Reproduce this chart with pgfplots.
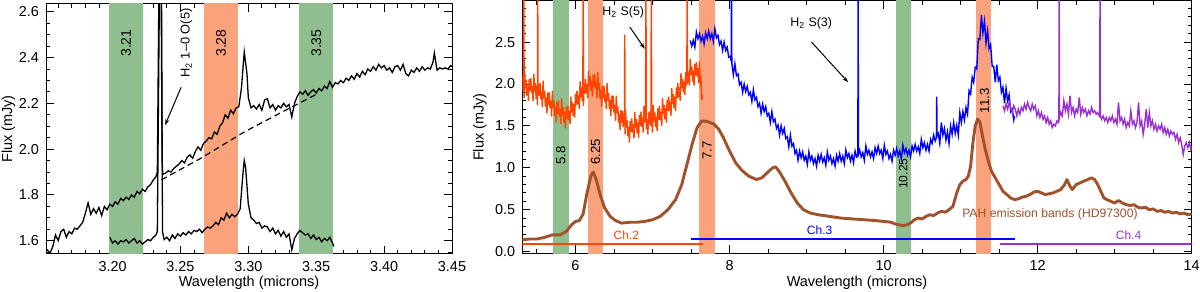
\documentclass[border=0pt]{standalone}
\usepackage{pgfplots}
\pgfplotsset{compat=1.18}
\usepackage{fontspec}
\setmainfont{Liberation Sans}
\usetikzlibrary{arrows.meta}
\definecolor{gband}{RGB}{143,191,143}
\definecolor{oband}{RGB}{250,162,124}
\definecolor{chtwo}{RGB}{255,69,0}
\definecolor{chthree}{RGB}{0,0,255}
\definecolor{chfour}{RGB}{155,48,210}
\definecolor{pah}{RGB}{160,82,45}
\pgfplotsset{
  common/.style={
    scale only axis, axis line style={line width=0.5pt},
    tick align=inside, major tick length=4pt, minor tick length=2pt,
    every tick/.style={black, line width=0.45pt},
    every tick label/.append style={font=\fontsize{7.2}{8}\selectfont},
    label style={font=\fontsize{7.25}{8}\selectfont},
    /pgf/number format/assume math mode=true,
    xlabel={Wavelength (microns)}, ylabel={Flux (mJy)},
  }
}
\begin{document}
\begin{tikzpicture}
\useasboundingbox (0,0) rectangle (600pt,-146pt);
% ---------------- left panel ----------------
\begin{axis}[common, at={(23pt,-127pt)}, anchor=south west, width=203pt, height=125pt,
  xmin=3.151, xmax=3.45, ymin=1.542, ymax=2.634,
  xtick={3.20,3.25,3.30,3.35,3.40,3.45},
  minor xtick={3.16,3.17,3.18,3.19,3.21,3.22,3.23,3.24,3.26,3.27,3.28,3.29,3.31,3.32,3.33,3.34,3.36,3.37,3.38,3.39,3.41,3.42,3.43,3.44},
  ytick={1.6,1.8,2.0,2.2,2.4,2.6},
  minor ytick={1.55,1.65,1.7,1.75,1.85,1.9,1.95,2.05,2.1,2.15,2.25,2.3,2.35,2.45,2.5,2.55},
  xticklabel style={/pgf/number format/.cd, fixed, fixed zerofill, precision=2},
  yticklabel style={/pgf/number format/.cd, fixed, fixed zerofill, precision=1},
  xlabel style={at={(axis description cs:0.5,-0.116)}, anchor=center},
  ylabel style={at={(axis description cs:-0.0929,0.5)}, anchor=center},
]
\addplot[draw=none, fill=gband] coordinates {(3.1975,1.5) (3.1975,2.7) (3.2225,2.7) (3.2225,1.5)} -- cycle;
\addplot[draw=none, fill=oband] coordinates {(3.2675,1.5) (3.2675,2.7) (3.2925,2.7) (3.2925,1.5)} -- cycle;
\addplot[draw=none, fill=gband] coordinates {(3.3375,1.5) (3.3375,2.7) (3.3625,2.7) (3.3625,1.5)} -- cycle;
% upper spectrum
\addplot[black, line width=0.65pt] coordinates {
(3.150,1.555) (3.152,1.560) (3.154,1.545) (3.156,1.575) (3.158,1.625) (3.160,1.600) (3.162,1.640) (3.164,1.650)
(3.166,1.615) (3.168,1.640) (3.170,1.630) (3.172,1.655) (3.174,1.650) (3.176,1.665) (3.178,1.680) (3.180,1.720)
(3.182,1.765) (3.184,1.715) (3.186,1.740) (3.188,1.720) (3.190,1.745) (3.192,1.710) (3.194,1.750) (3.196,1.735)
(3.198,1.760) (3.200,1.750) (3.202,1.770) (3.204,1.760) (3.206,1.785) (3.208,1.775) (3.210,1.790) (3.212,1.780)
(3.214,1.800) (3.216,1.790) (3.218,1.815) (3.220,1.805) (3.222,1.825) (3.224,1.815) (3.226,1.835) (3.228,1.845)
(3.230,1.865) (3.232,1.880) (3.233,1.900) (3.2343,2.8) (3.2357,2.8) (3.2365,1.950) (3.237,1.890) (3.239,1.895)
(3.241,1.905) (3.243,1.900) (3.245,1.915) (3.247,1.925) (3.249,1.935) (3.251,1.950) (3.253,1.940) (3.255,1.965)
(3.257,1.975) (3.259,1.960) (3.261,1.990) (3.263,2.010) (3.265,1.995) (3.267,2.025) (3.269,2.035) (3.271,2.050)
(3.273,2.045) (3.275,2.075) (3.277,2.065) (3.279,2.100) (3.281,2.115) (3.283,2.150) (3.285,2.135) (3.287,2.170)
(3.289,2.155) (3.291,2.180) (3.293,2.185) (3.295,2.270) (3.297,2.425) (3.299,2.330) (3.300,2.225) (3.302,2.180)
(3.304,2.190) (3.306,2.175) (3.308,2.195) (3.310,2.170) (3.312,2.215) (3.314,2.220) (3.316,2.180) (3.318,2.195)
(3.320,2.170) (3.322,2.190) (3.324,2.180) (3.326,2.200) (3.328,2.185) (3.330,2.195) (3.332,2.140) (3.334,2.200)
(3.336,2.230) (3.338,2.250) (3.340,2.240) (3.342,2.255) (3.344,2.235) (3.346,2.250) (3.348,2.260) (3.350,2.245)
(3.352,2.265) (3.354,2.255) (3.356,2.275) (3.358,2.265) (3.360,2.295) (3.362,2.270) (3.364,2.290) (3.366,2.285)
(3.368,2.300) (3.370,2.290) (3.372,2.310) (3.374,2.300) (3.376,2.320) (3.378,2.305) (3.380,2.330) (3.382,2.315)
(3.384,2.340) (3.386,2.325) (3.388,2.350) (3.390,2.340) (3.392,2.360) (3.394,2.345) (3.396,2.370) (3.398,2.355)
(3.400,2.365) (3.402,2.345) (3.404,2.355) (3.406,2.335) (3.408,2.360) (3.410,2.365) (3.412,2.345) (3.414,2.370)
(3.416,2.330) (3.418,2.320) (3.420,2.345) (3.422,2.335) (3.424,2.355) (3.426,2.340) (3.428,2.360) (3.430,2.345)
(3.432,2.355) (3.434,2.350) (3.436,2.380) (3.437,2.420) (3.439,2.345) (3.441,2.355) (3.443,2.350) (3.445,2.355)
(3.447,2.350) (3.449,2.365) (3.450,2.360)};
% lower spectrum
\addplot[black, line width=0.65pt] coordinates {
(3.198,1.615) (3.200,1.590) (3.202,1.600) (3.204,1.585) (3.206,1.600) (3.208,1.595) (3.210,1.605) (3.212,1.590)
(3.214,1.600) (3.216,1.610) (3.218,1.590) (3.220,1.600) (3.222,1.585) (3.224,1.595) (3.226,1.605) (3.228,1.600)
(3.230,1.615) (3.232,1.625) (3.233,1.640) (3.2347,2.8) (3.2360,2.8) (3.2368,1.640) (3.238,1.605) (3.240,1.615)
(3.242,1.600) (3.244,1.625) (3.246,1.610) (3.248,1.630) (3.250,1.620) (3.252,1.635) (3.254,1.625) (3.256,1.640)
(3.258,1.630) (3.260,1.645) (3.262,1.640) (3.264,1.650) (3.266,1.635) (3.268,1.650) (3.270,1.660) (3.272,1.655)
(3.274,1.665) (3.276,1.680) (3.278,1.670) (3.280,1.700) (3.282,1.690) (3.284,1.720) (3.286,1.700) (3.288,1.715)
(3.290,1.705) (3.292,1.715) (3.294,1.740) (3.296,1.890) (3.297,1.950) (3.298,1.920) (3.300,1.760) (3.302,1.700)
(3.304,1.690) (3.306,1.675) (3.308,1.680) (3.310,1.655) (3.312,1.665) (3.314,1.660) (3.316,1.640) (3.318,1.655)
(3.320,1.630) (3.322,1.645) (3.324,1.620) (3.326,1.640) (3.328,1.615) (3.330,1.630) (3.332,1.560) (3.334,1.610)
(3.336,1.630) (3.338,1.645) (3.340,1.635) (3.342,1.625) (3.344,1.630) (3.346,1.610) (3.348,1.625) (3.350,1.605)
(3.352,1.615) (3.354,1.595) (3.356,1.610) (3.358,1.600) (3.360,1.615) (3.362,1.590) (3.363,1.575)};
% continuum
\addplot[black, line width=0.6pt, dash pattern=on 3pt off 2pt] coordinates {
(3.236,1.866) (3.265,1.960) (3.297,2.075) (3.330,2.178) (3.352,2.245)};
\node[rotate=90, font=\fontsize{7}{8}\selectfont] at (axis cs:3.21,2.463) {3.21};
\node[rotate=90, font=\fontsize{7}{8}\selectfont] at (axis cs:3.28,2.463) {3.28};
\node[rotate=90, font=\fontsize{7}{8}\selectfont] at (axis cs:3.35,2.463) {3.35};
\node[rotate=90, font=\fontsize{6.4}{7}\selectfont] at (axis cs:3.2544,2.463) {H\textsubscript{2} 1--0 O(5)};
\draw[-{Stealth[length=3pt,width=2pt]}, line width=0.5pt] (axis cs:3.2505,2.27) -- (axis cs:3.2387,2.105);
\end{axis}
% ---------------- right panel ----------------
\begin{axis}[common, at={(261.15pt,-126.65pt)}, anchor=south west, width=334.7pt, height=126.15pt,
  xmin=5.31, xmax=14, ymin=-0.02, ymax=2.99,
  xtick={6,8,10,12,14},
  minor xtick={5.5,6.5,7,7.5,8.5,9,9.5,10.5,11,11.5,12.5,13,13.5},
  ytick={0,0.5,1.0,1.5,2.0,2.5},
  minor ytick={0.1,0.2,0.3,0.4,0.6,0.7,0.8,0.9,1.1,1.2,1.3,1.4,1.6,1.7,1.8,1.9,2.1,2.2,2.3,2.4,2.6,2.7,2.8,2.9},
  yticklabel style={/pgf/number format/.cd, fixed, fixed zerofill, precision=1},
  xlabel style={at={(axis description cs:0.5,-0.1177)}, anchor=center},
  ylabel style={at={(axis description cs:-0.0632,0.5)}, anchor=center},
]
\addplot[draw=none, fill=gband] coordinates {(5.71,-0.1) (5.71,3.1) (5.91,3.1) (5.91,-0.1)} -- cycle;
\addplot[draw=none, fill=oband] coordinates {(6.16,-0.1) (6.16,3.1) (6.36,3.1) (6.36,-0.1)} -- cycle;
\addplot[draw=none, fill=oband] coordinates {(7.61,-0.1) (7.61,3.1) (7.81,3.1) (7.81,-0.1)} -- cycle;
\addplot[draw=none, fill=gband] coordinates {(10.155,-0.1) (10.155,3.1) (10.355,3.1) (10.355,-0.1)} -- cycle;
\addplot[draw=none, fill=oband] coordinates {(11.20,-0.1) (11.20,3.1) (11.40,3.1) (11.40,-0.1)} -- cycle;
% Ch.2
\addplot[chtwo, line width=0.7pt] coordinates {
(5.31,2.10) (5.32,1.92) (5.326,2.01) (5.330,3.20) (5.334,1.83) (5.34,2.15) (5.35,1.95) (5.36,2.05)
(5.37,1.86) (5.38,1.98) (5.39,1.80) (5.40,2.06) (5.41,1.92) (5.42,2.07) (5.43,1.89) (5.44,1.98)
(5.45,1.80) (5.46,2.12) (5.47,1.91) (5.48,2.01) (5.49,1.82) (5.50,1.94) (5.506,1.75) (5.510,3.20)
(5.514,1.91) (5.52,2.00) (5.53,1.86) (5.54,2.01) (5.55,1.82) (5.56,1.91) (5.57,1.72) (5.58,2.04)
(5.59,1.83) (5.60,1.92) (5.61,1.73) (5.62,1.84) (5.63,1.65) (5.64,1.90) (5.65,1.75) (5.66,1.90)
(5.67,1.71) (5.68,1.80) (5.69,1.61) (5.70,1.92) (5.71,1.71) (5.72,1.80) (5.73,1.62) (5.74,1.73)
(5.75,1.54) (5.76,1.79) (5.77,1.64) (5.78,1.80) (5.79,1.61) (5.80,1.70) (5.81,1.52) (5.82,1.83)
(5.83,1.63) (5.84,1.72) (5.85,1.54) (5.86,1.66) (5.87,1.47) (5.88,1.73) (5.89,1.58) (5.90,1.74)
(5.91,1.57) (5.92,1.68) (5.93,1.52) (5.94,1.85) (5.95,1.66) (5.96,1.78) (5.97,1.62) (5.98,1.76)
(5.99,1.60) (6.00,1.88) (6.01,1.75) (6.02,1.92) (6.03,1.76) (6.04,1.87) (6.05,1.70) (6.06,2.03)
(6.07,1.84) (6.08,1.96) (6.09,1.79) (6.096,1.92) (6.100,3.20) (6.104,1.74) (6.11,2.01) (6.12,1.88)
(6.13,2.06) (6.14,1.89) (6.15,2.00) (6.16,1.83) (6.17,2.16) (6.18,1.98) (6.19,2.09) (6.20,1.92)
(6.21,2.04) (6.22,1.85) (6.23,2.11) (6.24,1.97) (6.25,2.12) (6.26,1.94) (6.27,2.03) (6.28,1.83)
(6.29,2.14) (6.30,1.93) (6.31,2.01) (6.32,1.82) (6.33,1.93) (6.34,1.73) (6.35,1.98) (6.36,1.83)
(6.37,1.98) (6.38,1.79) (6.39,1.88) (6.40,1.70) (6.41,2.01) (6.42,1.80) (6.43,1.89) (6.44,1.70)
(6.45,1.81) (6.46,1.62) (6.47,1.86) (6.48,1.71) (6.49,1.86) (6.50,1.66) (6.51,1.75) (6.52,1.56)
(6.53,1.86) (6.54,1.65) (6.55,1.73) (6.56,1.54) (6.57,1.64) (6.58,1.45) (6.59,1.69) (6.60,1.54)
(6.61,1.68) (6.62,1.49) (6.63,1.58) (6.636,1.53) (6.640,2.59) (6.644,1.40) (6.65,1.69) (6.66,1.48)
(6.67,1.57) (6.68,1.38) (6.69,1.49) (6.70,1.30) (6.71,1.56) (6.72,1.43) (6.73,1.59) (6.74,1.42)
(6.75,1.52) (6.76,1.35) (6.77,1.67) (6.78,1.48) (6.79,1.58) (6.80,1.41) (6.81,1.54) (6.82,1.36)
(6.83,1.63) (6.84,1.50) (6.85,1.67) (6.86,1.49) (6.87,1.60) (6.88,1.42) (6.89,1.74) (6.90,1.54)
(6.91,1.64) (6.915,3.20) (6.92,1.46) (6.93,1.58) (6.94,1.40) (6.95,1.66) (6.96,1.52) (6.97,1.68)
(6.98,1.50) (6.985,3.20) (6.99,1.60) (7.00,1.42) (7.01,1.75) (7.02,1.55) (7.03,1.66) (7.04,1.49)
(7.05,1.61) (7.06,1.44) (7.07,1.71) (7.08,1.57) (7.09,1.74) (7.10,1.57) (7.11,1.67) (7.12,1.50)
(7.13,1.83) (7.14,1.64) (7.15,1.75) (7.16,1.58) (7.17,1.71) (7.18,1.54) (7.19,1.81) (7.20,1.68)
(7.21,1.85) (7.22,1.68) (7.23,1.79) (7.24,1.62) (7.25,1.95) (7.26,1.76) (7.27,1.88) (7.28,1.71)
(7.29,1.85) (7.30,1.68) (7.31,1.96) (7.32,1.83) (7.33,2.01) (7.34,1.84) (7.35,1.96) (7.36,1.80)
(7.37,2.13) (7.38,1.95) (7.39,2.06) (7.40,1.90) (7.41,2.03) (7.42,1.87) (7.43,2.14) (7.44,2.02)
(7.446,2.05) (7.450,3.20) (7.454,2.02) (7.46,2.03) (7.47,2.15) (7.48,1.98) (7.49,2.30) (7.50,2.11)
(7.51,2.21) (7.52,2.03) (7.53,2.16) (7.54,1.98) (7.55,2.24) (7.56,2.10) (7.57,2.26) (7.58,2.09)
(7.59,2.19) (7.60,2.01) (7.61,2.27) (7.62,2.01) (7.63,2.05) (7.64,1.81) (7.65,1.87)};
% Ch.3
\addplot[chthree, line width=0.7pt] coordinates {
(7.49,2.52) (7.51,2.45) (7.53,2.52) (7.55,2.44) (7.57,2.62) (7.59,2.54) (7.61,2.60) (7.63,2.51)
(7.65,2.57) (7.67,2.48) (7.69,2.61) (7.71,2.54) (7.73,2.63) (7.75,2.54) (7.77,2.60) (7.79,2.51)
(7.81,2.66) (7.83,2.55) (7.85,2.58) (7.87,2.47) (7.89,2.51) (7.91,2.40) (7.93,2.50) (7.95,2.40)
(7.97,2.44) (7.99,2.32) (8.01,2.33) (8.022,2.27) (8.026,3.20) (8.030,2.25) (8.05,2.11) (8.07,2.24)
(8.09,2.10) (8.11,2.12) (8.13,1.99) (8.15,2.02) (8.17,1.90) (8.19,2.00) (8.21,1.91) (8.23,1.97)
(8.25,1.87) (8.27,1.90) (8.29,1.79) (8.31,1.93) (8.33,1.81) (8.35,1.84) (8.37,1.73) (8.39,1.77)
(8.41,1.65) (8.43,1.76) (8.45,1.67) (8.47,1.73) (8.49,1.62) (8.51,1.65) (8.53,1.54) (8.55,1.67)
(8.57,1.55) (8.59,1.58) (8.61,1.47) (8.63,1.51) (8.65,1.39) (8.67,1.50) (8.69,1.41) (8.71,1.47)
(8.73,1.35) (8.75,1.37) (8.77,1.25) (8.79,1.39) (8.81,1.26) (8.83,1.29) (8.85,1.17) (8.87,1.21)
(8.89,1.09) (8.91,1.20) (8.93,1.12) (8.95,1.19) (8.97,1.09) (8.99,1.14) (9.01,1.04) (9.03,1.19)
(9.05,1.09) (9.07,1.14) (9.09,1.05) (9.11,1.11) (9.13,1.02) (9.15,1.15) (9.17,1.08) (9.19,1.16)
(9.21,1.07) (9.23,1.12) (9.25,1.03) (9.27,1.19) (9.29,1.09) (9.31,1.14) (9.33,1.05) (9.35,1.11)
(9.37,1.02) (9.39,1.15) (9.41,1.08) (9.43,1.17) (9.45,1.08) (9.47,1.14) (9.49,1.05) (9.51,1.21)
(9.53,1.12) (9.55,1.17) (9.57,1.08) (9.59,1.15) (9.61,1.06) (9.63,1.20) (9.65,1.13) (9.666,1.15)
(9.670,3.20) (9.674,1.16) (9.69,1.21) (9.71,1.13) (9.73,1.18) (9.75,1.09) (9.77,1.26) (9.79,1.16)
(9.81,1.21) (9.83,1.13) (9.85,1.19) (9.87,1.11) (9.89,1.24) (9.91,1.17) (9.93,1.26) (9.95,1.17)
(9.97,1.21) (9.99,1.11) (10.01,1.27) (10.03,1.16) (10.05,1.20) (10.07,1.11) (10.09,1.16) (10.11,1.08)
(10.13,1.21) (10.15,1.15) (10.17,1.23) (10.19,1.14) (10.21,1.20) (10.23,1.11) (10.25,1.27) (10.27,1.18)
(10.29,1.23) (10.31,1.15) (10.33,1.21) (10.35,1.13) (10.37,1.26) (10.39,1.20) (10.41,1.28) (10.43,1.20)
(10.45,1.25) (10.47,1.17) (10.49,1.34) (10.51,1.24) (10.53,1.30) (10.55,1.21) (10.57,1.28) (10.59,1.20)
(10.61,1.34) (10.63,1.29) (10.65,1.39) (10.67,1.32) (10.686,1.36) (10.690,1.85) (10.694,1.38) (10.71,1.41)
(10.73,1.29) (10.75,1.54) (10.77,1.39) (10.79,1.47) (10.81,1.33) (10.83,1.43) (10.85,1.29) (10.87,1.50)
(10.89,1.40) (10.91,1.54) (10.93,1.41) (10.95,1.51) (10.97,1.39) (10.99,1.66) (11.01,1.54) (11.03,1.67)
(11.05,1.57) (11.07,1.72) (11.09,1.64) (11.11,1.92) (11.13,1.88) (11.15,2.08) (11.17,2.02) (11.19,2.20)
(11.21,2.18) (11.23,2.54) (11.25,2.53) (11.27,2.82) (11.29,2.61) (11.31,2.75) (11.33,2.49) (11.35,2.63)
(11.37,2.42) (11.39,2.47) (11.41,2.21) (11.43,2.21) (11.45,2.02) (11.47,2.23) (11.49,2.04) (11.51,2.08)
(11.53,1.90) (11.55,1.96) (11.57,1.77) (11.59,1.95) (11.61,1.80) (11.63,1.87) (11.65,1.67) (11.67,1.70)
(11.69,1.57) (11.70,1.62)};
% Ch.4
\addplot[chfour, line width=0.7pt] coordinates {
(11.55,1.74) (11.57,1.68) (11.59,1.76) (11.61,1.70) (11.63,1.78) (11.65,1.72) (11.67,1.66) (11.69,1.74)
(11.71,1.70) (11.73,1.62) (11.75,1.70) (11.77,1.64) (11.79,1.72) (11.81,1.68) (11.83,1.76) (11.85,1.70)
(11.87,1.78) (11.89,1.72) (11.91,1.68) (11.93,1.76) (11.95,1.70) (11.97,1.74) (11.99,1.62) (12.01,1.68)
(12.03,1.60) (12.05,1.66) (12.07,1.58) (12.09,1.62) (12.11,1.54) (12.13,1.60) (12.15,1.52) (12.17,1.56)
(12.19,1.48) (12.21,1.52) (12.23,1.50) (12.25,1.56) (12.27,1.54) (12.276,1.56) (12.280,3.20) (12.284,1.60)
(12.30,1.66) (12.32,1.62) (12.34,1.80) (12.36,1.68) (12.38,1.76) (12.40,1.64) (12.42,1.86) (12.44,1.66)
(12.46,1.72) (12.48,1.62) (12.50,1.70) (12.52,1.66) (12.54,1.84) (12.56,1.64) (12.58,1.72) (12.60,1.66)
(12.62,1.70) (12.64,1.62) (12.66,1.68) (12.68,1.64) (12.70,1.72) (12.72,1.66) (12.74,1.68) (12.76,1.64)
(12.78,1.66) (12.80,1.62) (12.806,1.64) (12.810,3.20) (12.814,1.62) (12.83,1.58) (12.85,1.62) (12.87,1.56)
(12.89,1.60) (12.91,1.54) (12.93,1.60) (12.95,1.56) (12.97,1.62) (12.99,1.54) (13.01,1.58) (13.03,1.52)
(13.05,1.78) (13.07,1.56) (13.09,1.60) (13.11,1.52) (13.13,1.58) (13.15,1.48) (13.17,1.54) (13.19,1.50)
(13.21,1.68) (13.23,1.52) (13.25,1.56) (13.27,1.48) (13.29,1.54) (13.31,1.78) (13.33,1.50) (13.35,1.56)
(13.37,1.40) (13.39,1.52) (13.41,1.70) (13.43,1.48) (13.45,1.66) (13.47,1.50) (13.49,1.56) (13.51,1.46)
(13.53,1.52) (13.55,1.44) (13.57,1.50) (13.59,1.46) (13.61,1.52) (13.63,1.42) (13.65,1.48) (13.67,1.40)
(13.69,1.46) (13.71,1.38) (13.73,1.44) (13.75,1.40) (13.77,1.42) (13.79,1.34) (13.81,1.40) (13.83,1.30)
(13.85,1.36) (13.87,1.28) (13.89,1.16) (13.91,1.26) (13.93,1.30) (13.95,1.24) (13.97,1.30) (13.99,1.22)
(14.00,1.26)};
% PAH template
\addplot[pah, line width=1.45pt, line join=round] coordinates {
(5.31,0.14) (5.40,0.15) (5.50,0.15) (5.60,0.17) (5.70,0.20) (5.80,0.20) (5.88,0.24) (5.95,0.32)
(6.00,0.36) (6.05,0.37) (6.10,0.45) (6.15,0.70) (6.20,0.90) (6.23,0.95) (6.27,0.86) (6.32,0.68)
(6.38,0.52) (6.45,0.42) (6.52,0.37) (6.60,0.34) (6.70,0.35) (6.80,0.35) (6.90,0.36) (7.00,0.38)
(7.10,0.42) (7.20,0.50) (7.30,0.62) (7.38,0.80) (7.45,1.05) (7.52,1.30) (7.58,1.48) (7.64,1.56)
(7.72,1.55) (7.80,1.52) (7.86,1.46) (7.92,1.36) (8.00,1.20) (8.08,1.06) (8.16,0.97) (8.25,0.90)
(8.35,0.86) (8.42,0.88) (8.50,0.95) (8.56,1.00) (8.60,1.01) (8.65,0.95) (8.72,0.84) (8.80,0.70)
(8.88,0.58) (8.96,0.50) (9.05,0.46) (9.15,0.44) (9.30,0.42) (9.45,0.40) (9.60,0.39) (9.75,0.38)
(9.90,0.37) (10.00,0.36) (10.10,0.35) (10.15,0.33) (10.20,0.32) (10.25,0.31) (10.30,0.32) (10.35,0.34)
(10.40,0.38) (10.45,0.40) (10.50,0.39) (10.55,0.42) (10.60,0.44) (10.65,0.43) (10.70,0.46) (10.75,0.48)
(10.80,0.47) (10.85,0.50) (10.90,0.54) (10.95,0.70) (10.99,0.80) (11.03,0.84) (11.07,0.86) (11.10,0.90)
(11.13,1.02) (11.16,1.30) (11.19,1.50) (11.22,1.58) (11.25,1.55) (11.28,1.40) (11.32,1.22) (11.36,1.08)
(11.40,0.96) (11.45,0.88) (11.50,0.80) (11.55,0.72) (11.60,0.68) (11.65,0.64) (11.70,0.62) (11.75,0.63)
(11.80,0.65) (11.85,0.66) (11.90,0.68) (11.95,0.71) (12.00,0.72) (12.05,0.70) (12.10,0.68) (12.15,0.69)
(12.20,0.70) (12.25,0.72) (12.30,0.74) (12.35,0.80) (12.38,0.86) (12.42,0.78) (12.45,0.74) (12.50,0.80)
(12.55,0.82) (12.60,0.84) (12.65,0.86) (12.70,0.88) (12.74,0.86) (12.78,0.80) (12.82,0.72) (12.86,0.64)
(12.90,0.62) (12.95,0.60) (13.00,0.58) (13.05,0.61) (13.10,0.58) (13.15,0.56) (13.20,0.55) (13.25,0.56)
(13.30,0.53) (13.35,0.52) (13.40,0.53) (13.45,0.50) (13.50,0.51) (13.55,0.48) (13.60,0.49) (13.65,0.47)
(13.70,0.48) (13.75,0.46) (13.80,0.47) (13.85,0.45) (13.90,0.46) (13.95,0.44) (14.00,0.45)};
% channel coverage
\addplot[chtwo, line width=1pt] coordinates {(5.31,0.09) (7.65,0.09)};
\addplot[chthree, line width=1pt] coordinates {(7.50,0.15) (11.70,0.15)};
\addplot[chfour, line width=1pt] coordinates {(11.51,0.09) (14.0,0.09)};
\node[chtwo, font=\fontsize{6}{7}\selectfont] at (axis cs:6.66,0.19) {Ch.2};
\node[chthree, font=\fontsize{6}{7}\selectfont] at (axis cs:9.17,0.25) {Ch.3};
\node[chfour, font=\fontsize{6}{7}\selectfont] at (axis cs:13.18,0.20) {Ch.4};
\node[pah, font=\fontsize{6.1}{7}\selectfont] at (axis cs:12.16,0.44) {PAH emission bands (HD97300)};
\node[rotate=90, font=\fontsize{6.6}{7}\selectfont] at (axis cs:5.81,1.15) {5.8};
\node[rotate=90, font=\fontsize{6.6}{7}\selectfont] at (axis cs:6.26,1.19) {6.25};
\node[rotate=90, font=\fontsize{6.6}{7}\selectfont] at (axis cs:7.71,1.21) {7.7};
\node[rotate=90, font=\fontsize{6}{7}\selectfont] at (axis cs:10.255,0.93) {10.25};
\node[rotate=90, font=\fontsize{6.6}{7}\selectfont] at (axis cs:11.31,1.80) {11.3};
\node[font=\fontsize{6.2}{7}\selectfont] at (axis cs:6.62,2.86) {H\textsubscript{2} S(5)};
\node[font=\fontsize{6.2}{7}\selectfont] at (axis cs:9.06,2.72) {H\textsubscript{2} S(3)};
\draw[-{Stealth[length=3pt,width=2pt]}, line width=0.5pt] (axis cs:6.705,2.68) -- (axis cs:6.90,2.42);
\draw[-{Stealth[length=3pt,width=2pt]}, line width=0.5pt] (axis cs:9.065,2.50) -- (axis cs:9.54,2.02);
\end{axis}
\end{tikzpicture}
\end{document}
